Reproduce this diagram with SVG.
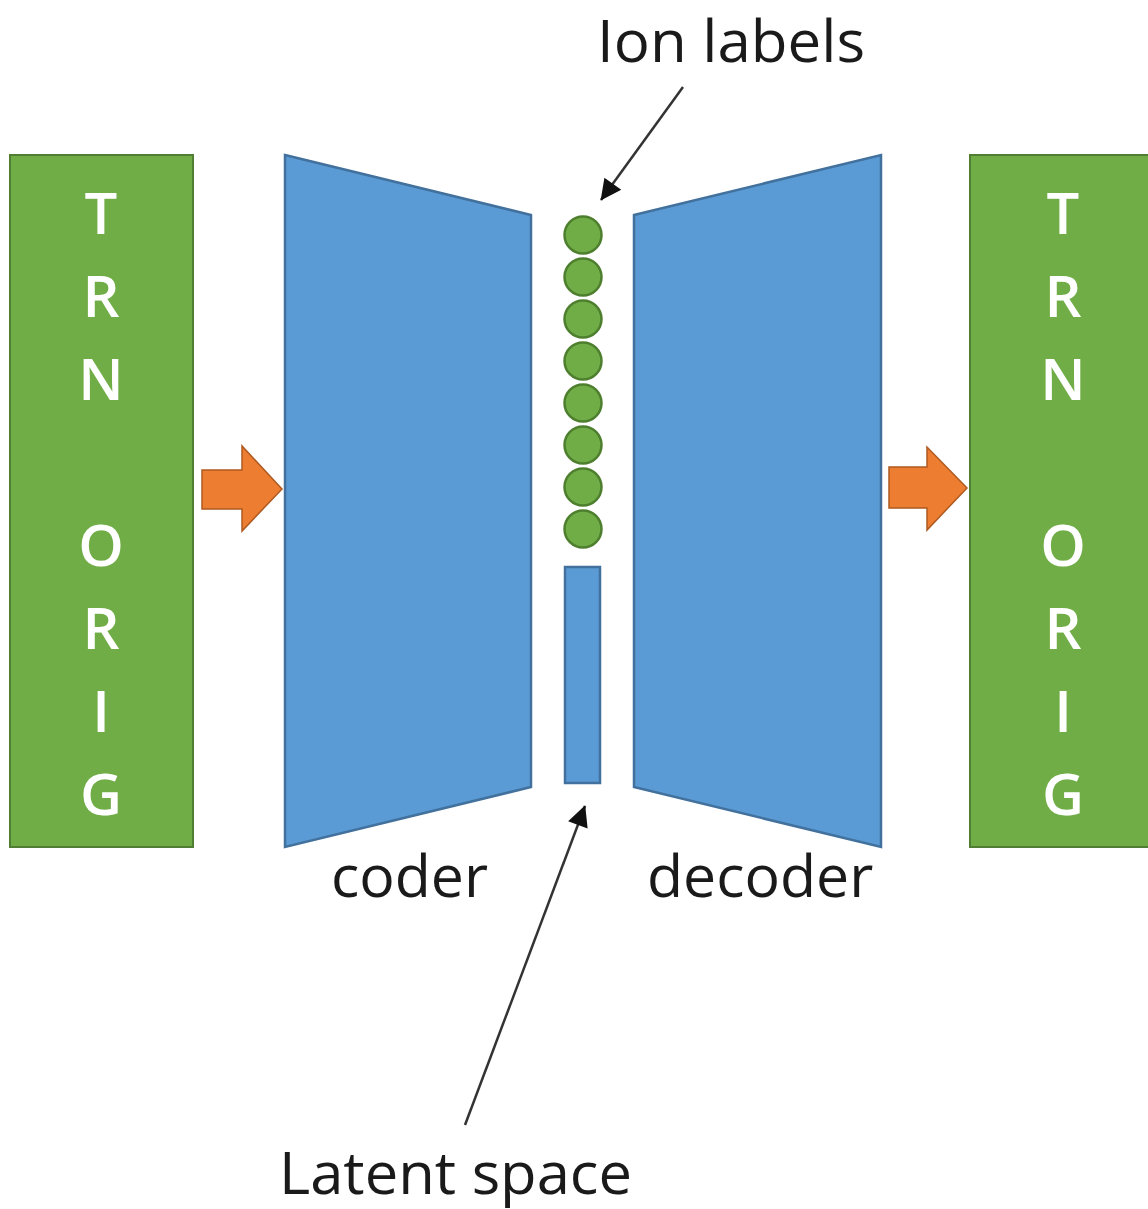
<svg xmlns="http://www.w3.org/2000/svg" width="1148" height="1209" viewBox="0 0 1148 1209">
  <style>
    .box { fill: #70ad47; stroke: #507e32; stroke-width: 2; }
    .trap { fill: #5b9bd5; stroke: #41719c; stroke-width: 2.5; }
    .ion { fill: #70ad47; stroke: #4e7f2e; stroke-width: 2.5; }
    .flow { fill: #ed7d31; stroke: #ae5a21; stroke-width: 1.5; }
    .letter { font-family: "Open Sans", "Liberation Sans", sans-serif; font-size: 58px; font-weight: 600; fill: #ffffff; text-anchor: middle; }
    .label { font-family: "Open Sans", "Liberation Sans", sans-serif; font-size: 59px; fill: #1a1a1a; }
    .lead { stroke: #333333; stroke-width: 2.5; fill: none; marker-end: url(#tip); }
  </style>
  <defs>
    <marker id="tip" viewBox="0 0 10 10" refX="9" refY="5" markerWidth="8" markerHeight="8" markerUnits="userSpaceOnUse" orient="auto" overflow="visible">
      <path d="M0,0 L10,5 L0,10 z" fill="#111111" transform="scale(2.6) translate(-6.2,-3.1)"/>
    </marker>
  </defs>
  <rect width="1148" height="1209" fill="#ffffff"/>

  <!-- input block -->
  <g id="input-trn-orig">
    <rect class="box" x="10" y="155" width="183" height="692"/>
    <text class="letter" x="101" y="234">T</text>
    <text class="letter" x="101" y="317">R</text>
    <text class="letter" x="101" y="400">N</text>
    <text class="letter" x="101" y="566">O</text>
    <text class="letter" x="101" y="649">R</text>
    <text class="letter" x="101" y="732">I</text>
    <text class="letter" x="101" y="815">G</text>
  </g>

  <!-- encoder -->
  <g id="coder">
    <polygon class="trap" points="285,155 531,215 531,787 285,847"/>
    <text class="label" x="331" y="897">coder</text>
  </g>

  <!-- ion label units -->
  <g id="ion-labels">
    <circle class="ion" cx="583" cy="235" r="18.5"/>
    <circle class="ion" cx="583" cy="277" r="18.5"/>
    <circle class="ion" cx="583" cy="319" r="18.5"/>
    <circle class="ion" cx="583" cy="361" r="18.5"/>
    <circle class="ion" cx="583" cy="403" r="18.5"/>
    <circle class="ion" cx="583" cy="445" r="18.5"/>
    <circle class="ion" cx="583" cy="487" r="18.5"/>
    <circle class="ion" cx="583" cy="529" r="18.5"/>
    <text class="label" x="597" y="62" font-size="57" textLength="268" lengthAdjust="spacingAndGlyphs">Ion labels</text>
  </g>

  <!-- latent vector -->
  <g id="latent-space">
    <rect class="trap" x="565" y="567" width="35" height="216"/>
    <text class="label" x="279" y="1194" textLength="353" lengthAdjust="spacingAndGlyphs">Latent space</text>
  </g>

  <!-- decoder -->
  <g id="decoder">
    <polygon class="trap" points="634,215 881,155 881,847 634,787"/>
    <text class="label" x="647" y="897">decoder</text>
  </g>

  <!-- output block -->
  <g id="output-trn-orig">
    <rect class="box" x="970" y="155" width="186" height="692"/>
    <text class="letter" x="1063" y="234">T</text>
    <text class="letter" x="1063" y="317">R</text>
    <text class="letter" x="1063" y="400">N</text>
    <text class="letter" x="1063" y="566">O</text>
    <text class="letter" x="1063" y="649">R</text>
    <text class="letter" x="1063" y="732">I</text>
    <text class="letter" x="1063" y="815">G</text>
  </g>

  <!-- connectors -->
  <g id="connectors">
    <polygon class="flow" points="202,470 242,470 242,446 282,489 242,531 242,509 202,509"/>
    <polygon class="flow" points="889,467 927,467 927,447 967,488 927,530 927,508 889,508"/>
    <line class="lead" x1="683" y1="87" x2="601" y2="200"/>
    <line class="lead" x1="465" y1="1125" x2="585" y2="806"/>
  </g>
</svg>
